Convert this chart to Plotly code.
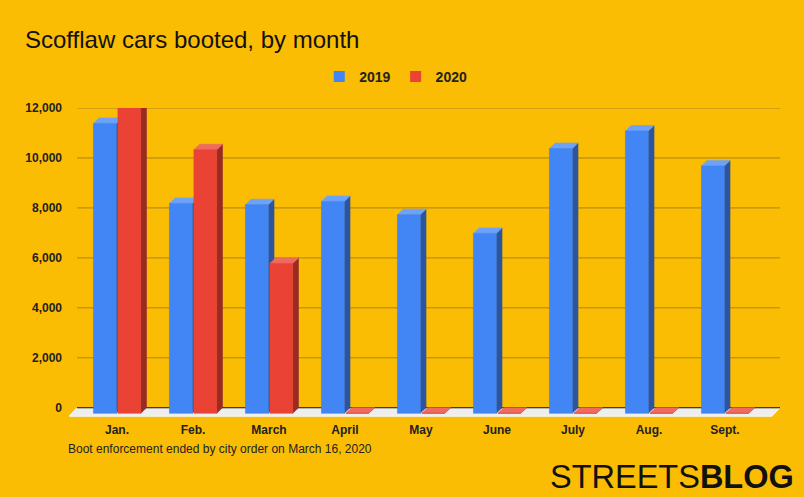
import plotly.graph_objects as go

months = ["Jan.", "Feb.", "March", "April", "May", "June", "July", "Aug.", "Sept."]
boots_2019 = [11600, 8400, 8350, 8480, 7950, 7200, 10600, 11300, 9900]
boots_2020 = [12250, 10550, 6000, 0, 0, 0, 0, 0, 0]
y_ticks = [0, 2000, 4000, 6000, 8000, 10000, 12000]

BG = "#FBBC04"
FONT = "Liberation Sans, Arial, sans-serif"

# fake 3D: bar width, depth offsets (x in category units, y in value units)
W = 0.30
DX = 0.076
DY = 220
FLOOR_DX = 0.105
FLOOR_DY = 340
X_BACK = [-0.526, 8.724]

series = [
    ("2019", boots_2019, -0.31, "#4285F4", "#2B569F", "#6DA2F7"),
    ("2020", boots_2020, 0.012, "#EA4335", "#992B25", "#EF6B61"),
]


def faces(vals, off):
    fx, fy, sx, sy, tx, ty = [], [], [], [], [], []
    for i, v in enumerate(vals):
        x0 = i + off
        x1 = x0 + W
        fx += [x0, x1, x1, x0, x0, None]
        fy += [-DY, -DY, v - DY, v - DY, -DY, None]
        sx += [x1, x1 + DX, x1 + DX, x1, x1, None]
        sy += [-DY, 0, v, v - DY, -DY, None]
        tx += [x0, x1, x1 + DX, x0 + DX, x0, None]
        ty += [v - DY, v - DY, v, v, v - DY, None]
    return (fx, fy), (sx, sy), (tx, ty)


fig = go.Figure()

# floor
fig.add_trace(go.Scatter(
    x=[X_BACK[0], X_BACK[1], X_BACK[1] - FLOOR_DX, X_BACK[0] - FLOOR_DX, X_BACK[0]],
    y=[0, 0, -FLOOR_DY, -FLOOR_DY, 0],
    fill="toself", fillcolor="#EEEEEE", mode="lines",
    line=dict(color="#F6F6F6", width=1),
    showlegend=False, hoverinfo="skip"
))

# gridlines on the back wall
gx, gy = [], []
for t in y_ticks[1:]:
    gx += [X_BACK[0], X_BACK[1], None]
    gy += [t, t, None]
fig.add_trace(go.Scatter(
    x=gx, y=gy, mode="lines", line=dict(color="#A8851A", width=1),
    showlegend=False, hoverinfo="skip"
))
fig.add_trace(go.Scatter(
    x=X_BACK, y=[0, 0], mode="lines", line=dict(color="#000000", width=1.2),
    showlegend=False, hoverinfo="skip"
))

for name, vals, off, c_front, c_side, c_top in series:
    front, side, top = faces(vals, off)
    for (xs, ys), col in [(side, c_side), (top, c_top), (front, c_front)]:
        fig.add_trace(go.Scatter(
            x=xs, y=ys, fill="toself", fillcolor=col, mode="lines",
            line=dict(color=col, width=0.6),
            showlegend=False, hoverinfo="skip"
        ))
    # legend entry only
    fig.add_trace(go.Scatter(
        x=[None], y=[None], mode="markers", name=name,
        marker=dict(symbol="square", size=11, color=c_front)
    ))

fig.update_xaxes(
    range=[-0.6316, 8.75],
    tickvals=list(range(len(months))),
    ticktext=months,
    tickfont=dict(family=FONT, size=12, color="#222222", weight="bold"),
    ticklabelstandoff=2,
    showgrid=False, zeroline=False, showline=False, fixedrange=True
)
fig.update_yaxes(
    range=[-450, 12000],
    tickvals=y_ticks,
    ticktext=[f"{t:,}" for t in y_ticks],
    tickfont=dict(family=FONT, size=12, color="#222222", weight="bold"),
    ticklabelstandoff=6,
    showgrid=False, zeroline=False, showline=False, fixedrange=True
)

fig.add_annotation(
    text="Boot enforcement ended by city order on March 16, 2020",
    xref="paper", yref="paper", x=-0.0042, y=-0.097,
    xanchor="left", yanchor="middle", showarrow=False,
    font=dict(family=FONT, size=12, color="#222222")
)
fig.add_annotation(
    text="STREETS<b>BLOG</b>",
    xref="paper", yref="paper", x=1.02, y=-0.1855,
    xanchor="right", yanchor="middle", showarrow=False,
    font=dict(family=FONT, size=32.5, color="#111111")
)

fig.update_layout(
    width=804,
    height=497,
    margin=dict(l=69, r=22, t=108, b=78),
    paper_bgcolor=BG,
    plot_bgcolor=BG,
    title=dict(
        text="Scofflaw cars booted, by month",
        x=25 / 804, xref="container", xanchor="left",
        y=1 - 40 / 497, yref="container", yanchor="middle",
        font=dict(family=FONT, size=24, color="#111111")
    ),
    legend=dict(
        orientation="h", x=0.351, xanchor="left", y=1.0997, yanchor="middle",
        font=dict(family=FONT, size=14, color="#222222", weight="bold"),
        bgcolor="rgba(0,0,0,0)"
    ),
    showlegend=True
)

# page has a default 8px body margin; drop it so the figure sits at 0,0
fig.write_html(
    "out.html",
    config={"displayModeBar": False},
    post_script="document.body.style.margin = '0';"
)
